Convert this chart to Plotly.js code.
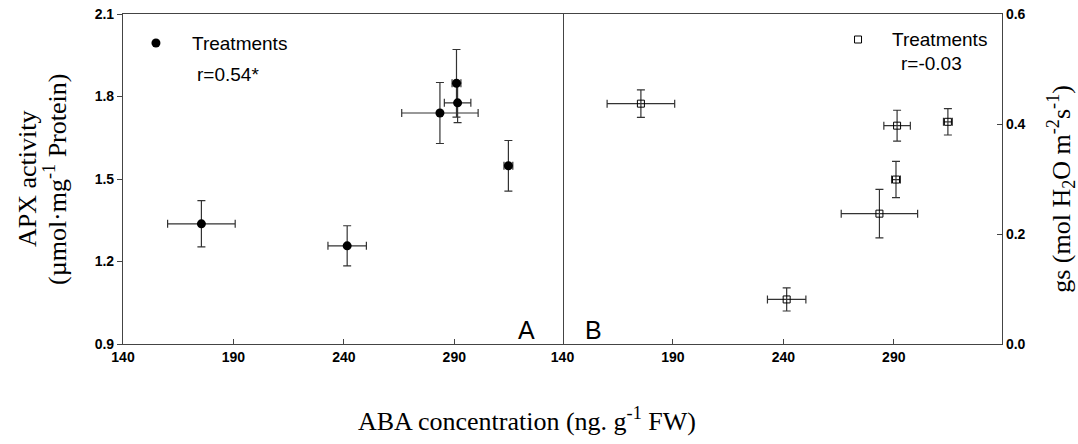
<!DOCTYPE html>
<html>
<head>
<meta charset="utf-8">
<script src="https://cdn.plot.ly/plotly-3.0.1.min.js"></script>
<style>html,body{margin:0;padding:0;background:#fff;}#chart{width:1078px;height:444px;}</style>
</head>
<body>
<div id="chart"></div>
<script>
// ABA concentration (shared by both panels) and its error
var aba = [175.5, 241.5, 283.5, 291, 291.5, 314.5];
var abaErr = [15.3, 8.7, 17.3, 2, 6, 2];
// Panel A: APX activity
var apx = [1.337, 1.257, 1.740, 1.848, 1.777, 1.548];
var apxErr = [0.084, 0.073, 0.111, 0.123, 0.072, 0.092];
// Panel B: stomatal conductance gs
var gs = [0.437, 0.081, 0.237, 0.299, 0.397, 0.404];
var gsErr = [0.025, 0.021, 0.044, 0.033, 0.028, 0.024];
// Axis ticks
var xTicks = [140, 190, 240, 290];
var yTicksA = [0.9, 1.2, 1.5, 1.8, 2.1];
var yTicksB = [0.0, 0.2, 0.4, 0.6];

var errStyle = {color: '#333', thickness: 1.2, width: 4};

var traces = [
  {
    x: aba, y: apx, xaxis: 'x', yaxis: 'y', type: 'scatter', mode: 'markers',
    marker: {symbol: 'circle', size: 9, color: '#000'},
    error_x: Object.assign({type: 'data', array: abaErr, visible: true}, errStyle),
    error_y: Object.assign({type: 'data', array: apxErr, visible: true}, errStyle),
    name: 'Treatments'
  },
  {
    x: aba, y: gs, xaxis: 'x2', yaxis: 'y2', type: 'scatter', mode: 'markers',
    marker: {symbol: 'square-open', size: 7, color: '#000', line: {width: 1, color: '#000'}},
    error_x: Object.assign({type: 'data', array: abaErr, visible: true}, errStyle),
    error_y: Object.assign({type: 'data', array: gsErr, visible: true}, errStyle),
    name: 'Treatments'
  }
];

var tickFont = {family: 'Arial, "Liberation Sans", sans-serif', size: 14, weight: 'bold', color: '#000'};
var serif = '"Times New Roman", "Liberation Serif", serif';
var sans = 'Arial, "Liberation Sans", sans-serif';

var common = {showgrid: false, zeroline: false, showline: true, linecolor: '#444', linewidth: 1.2,
  tickcolor: '#444', tickwidth: 1.2, ticklen: 5, tickfont: tickFont};

var layout = {
  width: 1078, height: 444,
  margin: {l: 123, r: 76, t: 14, b: 100},
  paper_bgcolor: '#fff', plot_bgcolor: '#fff',
  showlegend: false,
  hovermode: false,
  xaxis: Object.assign({}, common, {domain: [0, 0.5], range: [140, 339], tickvals: xTicks, ticks: 'inside', mirror: true, anchor: 'y'}),
  xaxis2: Object.assign({}, common, {domain: [0.5, 1], range: [140, 339], tickvals: xTicks, ticks: 'inside', mirror: true, anchor: 'y2'}),
  yaxis: Object.assign({}, common, {domain: [0, 1], range: [0.9, 2.1], tickvals: yTicksA, tickformat: '.1f', ticks: 'outside', mirror: true, anchor: 'x'}),
  yaxis2: Object.assign({}, common, {domain: [0, 1], range: [0, 0.6], tickvals: yTicksB, tickformat: '.1f', ticks: 'inside', side: 'right', mirror: false, anchor: 'x2'}),
  shapes: [
    {type: 'circle', xref: 'paper', yref: 'paper', xsizemode: 'pixel', ysizemode: 'pixel',
     xanchor: 0.0375, yanchor: 0.912, x0: -4.5, x1: 4.5, y0: -4.5, y1: 4.5,
     fillcolor: '#000', line: {color: '#000', width: 0}},
    {type: 'rect', xref: 'paper', yref: 'paper', xsizemode: 'pixel', ysizemode: 'pixel',
     xanchor: 0.8362, yanchor: 0.9227, x0: -3.5, x1: 3.5, y0: -3.5, y1: 3.5,
     fillcolor: '#fff', line: {color: '#000', width: 1}}
  ],
  annotations: [
    {text: 'ABA concentration (ng. g<sup>-1</sup> FW)', xref: 'paper', yref: 'paper', x: 0.4596, y: -0.23,
     xanchor: 'center', yanchor: 'middle', showarrow: false, font: {family: serif, size: 26, color: '#000'}},
    {text: 'APX activity', xref: 'paper', yref: 'paper', x: -0.1092, y: 0.5, textangle: -90,
     xanchor: 'center', yanchor: 'middle', showarrow: false, font: {family: serif, size: 26, color: '#000'}},
    {text: '(\u00b5mol\u00b7mg<sup>-1</sup> Protein)', xref: 'paper', yref: 'paper', x: -0.0774, y: 0.5, textangle: -90,
     xanchor: 'center', yanchor: 'middle', showarrow: false, font: {family: serif, size: 26, color: '#000'}},
    {text: 'gs (mol H<sub>2</sub>O m<sup>-2</sup>s<sup>-1</sup>)', xref: 'paper', yref: 'paper', x: 1.067, y: 0.47, textangle: -90,
     xanchor: 'center', yanchor: 'middle', showarrow: false, font: {family: serif, size: 26, color: '#000'}},
    {text: 'Treatments', xref: 'paper', yref: 'paper', x: 0.0762, y: 0.912, xanchor: 'left', yanchor: 'middle',
     showarrow: false, font: {family: sans, size: 19, color: '#000'}},
    {text: 'r=0.54*', xref: 'paper', yref: 'paper', x: 0.0819, y: 0.818, xanchor: 'left', yanchor: 'middle',
     showarrow: false, font: {family: sans, size: 19, color: '#000'}},
    {text: 'Treatments', xref: 'paper', yref: 'paper', x: 0.8731, y: 0.924, xanchor: 'left', yanchor: 'middle',
     showarrow: false, font: {family: sans, size: 19, color: '#000'}},
    {text: 'r=-0.03', xref: 'paper', yref: 'paper', x: 0.8828, y: 0.8485, xanchor: 'left', yanchor: 'middle',
     showarrow: false, font: {family: sans, size: 19, color: '#000'}},
    {text: 'A', xref: 'paper', yref: 'paper', x: 0.4593, y: 0.0424, xanchor: 'center', yanchor: 'middle',
     showarrow: false, font: {family: sans, size: 25, color: '#000'}},
    {text: 'B', xref: 'paper', yref: 'paper', x: 0.5358, y: 0.0424, xanchor: 'center', yanchor: 'middle',
     showarrow: false, font: {family: sans, size: 25, color: '#000'}}
  ]
};

Plotly.newPlot('chart', traces, layout, {displayModeBar: false});
</script>
</body>
</html>
